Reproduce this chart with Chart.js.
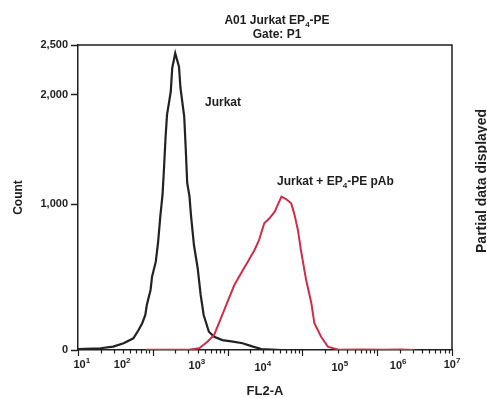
<!DOCTYPE html>
<html>
<head>
<meta charset="utf-8">
<script src="https://cdn.jsdelivr.net/npm/chart.js@4.4.1/dist/chart.umd.min.js"></script>
<style>
  html, body { margin: 0; padding: 0; background: #fff; }
  #wrap { width: 487px; height: 398px; }
</style>
</head>
<body>
<div id="wrap"><canvas id="flowChart" width="487" height="398"></canvas></div>
<script>
// ================= DATA =================
// x in axis units (one unit = one major tick interval), y in counts
const jurkatX = [0, 0.30, 0.47, 0.61, 0.74, 0.81, 0.86, 0.90, 0.92, 0.97, 0.99, 1.04, 1.07, 1.10, 1.13, 1.15, 1.17, 1.19, 1.24, 1.26, 1.30,
                 1.35, 1.37, 1.42, 1.44, 1.46, 1.49, 1.51, 1.55, 1.60, 1.64, 1.68, 1.75, 1.82, 1.93, 2.07, 2.20, 2.34, 2.45, 2.72];
const jurkatY = [6, 12, 23, 46, 80, 137, 185, 240, 308, 411, 502, 605, 733, 913, 1083, 1330, 1606, 1817, 2033, 2270, 2417,
                 2283, 2070, 1801, 1514, 1193, 1073, 925, 719, 560, 377, 240, 125, 91, 68, 57, 46, 23, 7, 0];

const epX = [0.90, 1.20, 1.50, 1.62, 1.73, 1.82, 1.91, 2.00, 2.09, 2.18, 2.27, 2.36, 2.42, 2.49, 2.56, 2.63, 2.72, 2.78, 2.85,
             2.89, 2.94, 2.98, 3.05, 3.12, 3.16, 3.25, 3.34, 3.48, 3.80, 4.10, 4.30, 4.50];
const epY = [1, 2, 3, 12, 57, 103, 217, 331, 445, 525, 605, 685, 753, 868, 902, 947, 1067, 1046, 1006,
             936, 822, 685, 479, 320, 183, 91, 23, 2, 3, 2, 4, 0];

const xTickPos = [0.05, 0.59, 1.59, 2.47, 3.50, 4.28, 5.0];
const xTickExp = ["1", "2", "3", "4", "5", "6", "7"];
const yTicks = [0, 1000, 2000, 2500];

// small vertical jitter of the printed decade labels (style only)
const xLabelDrop = [0, 0, 1, 3, 3, 1, 0];

const INK = "#1e1e1e";
const FONT = "'Liberation Sans', Arial, Helvetica, sans-serif";
Chart.defaults.font.family = FONT;

// ================= NON-LINEAR COUNT SCALE =================
// the count axis is compressed toward the top; map counts piecewise between the labelled ticks
const yBreakVals = [0, 1000, 2000, 2500];
const yBreakFrac = [0, 146 / 305, 255 / 305, 1];

function countToFrac(v) {
  for (let i = 1; i < yBreakVals.length; i++) {
    if (v <= yBreakVals[i] || i === yBreakVals.length - 1) {
      const t = (v - yBreakVals[i - 1]) / (yBreakVals[i] - yBreakVals[i - 1]);
      return yBreakFrac[i - 1] + t * (yBreakFrac[i] - yBreakFrac[i - 1]);
    }
  }
  return 0;
}
function fracToCount(f) {
  for (let i = 1; i < yBreakFrac.length; i++) {
    if (f <= yBreakFrac[i] || i === yBreakFrac.length - 1) {
      const t = (f - yBreakFrac[i - 1]) / (yBreakFrac[i] - yBreakFrac[i - 1]);
      return yBreakVals[i - 1] + t * (yBreakVals[i] - yBreakVals[i - 1]);
    }
  }
  return 0;
}

class PiecewiseScale extends Chart.LinearScale {
  getPixelForValue(value) {
    return this.getPixelForDecimal(countToFrac(value));
  }
  getValueForPixel(pixel) {
    return fracToCount(this.getDecimalForPixel(pixel));
  }
}
PiecewiseScale.id = "piecewise";
PiecewiseScale.defaults = Chart.LinearScale.defaults;
Chart.register(PiecewiseScale);

// ========== HELPERS ==========
function toPoints(xs, ys) {
  return xs.map((x, i) => ({ x: x, y: ys[i] }));
}

// draw text with sub/superscript parts: segments = [{t, sub, sup}]
function drawRich(ctx, segments, x, y, size, align) {
  const big = "bold " + size + "px " + FONT;
  const small = "bold " + Math.round(size * 0.7) + "px " + FONT;
  let total = 0;
  segments.forEach(s => {
    ctx.font = (s.sub || s.sup) ? small : big;
    total += ctx.measureText(s.t).width;
  });
  let cx = align === "center" ? x - total / 2 : x;
  ctx.textAlign = "left";
  ctx.textBaseline = "middle";
  segments.forEach(s => {
    ctx.font = (s.sub || s.sup) ? small : big;
    let dy = 0;
    if (s.sub) dy = size * 0.3;
    if (s.sup) dy = -size * 0.35;
    ctx.fillText(s.t, cx, y + dy);
    cx += ctx.measureText(s.t).width;
  });
}

// ================= DECORATION PLUGIN =================
const decorations = {
  id: "decorations",
  afterDraw(chart) {
    const { ctx, chartArea: a, scales: { x } } = chart;
    ctx.save();
    ctx.strokeStyle = INK;

    // frame top + right
    ctx.lineWidth = 1.5;
    ctx.beginPath();
    ctx.moveTo(a.left, a.top);
    ctx.lineTo(a.right, a.top);
    ctx.lineTo(a.right, a.bottom);
    ctx.stroke();

    // x tick marks: majors + log minors
    ctx.lineWidth = 1.2;
    ctx.beginPath();
    for (let k = 0; k <= 5; k++) {
      const px = Math.round(x.getPixelForValue(k)) + 0.5;
      ctx.moveTo(px, a.bottom);
      ctx.lineTo(px, a.bottom + 6);
      if (k < 5) {
        for (let m = 2; m <= 9; m++) {
          const p = Math.round(x.getPixelForValue(k + Math.log10(m))) + 0.5;
          ctx.moveTo(p, a.bottom);
          ctx.lineTo(p, a.bottom + 3.5);
        }
      }
    }
    ctx.stroke();

    ctx.fillStyle = INK;
    // decade labels with real superscripts
    xTickPos.forEach((v, i) => {
      drawRich(ctx, [{ t: "10" }, { t: xTickExp[i], sup: true }], x.getPixelForValue(v), a.bottom + 15 + xLabelDrop[i], 11, "center");
    });

    // title
    drawRich(ctx, [{ t: "A01 Jurkat EP" }, { t: "4", sub: true }, { t: "-PE" }], 277, 21, 12, "center");
    drawRich(ctx, [{ t: "Gate: P1" }], 277, 35, 12, "center");

    // series labels
    drawRich(ctx, [{ t: "Jurkat" }], a.left + 127, 103, 12, "left");
    drawRich(ctx, [{ t: "Jurkat + EP" }, { t: "4", sub: true }, { t: "-PE pAb" }], a.left + 199, 182, 12, "left");

    // side note
    ctx.translate(482, 181);
    ctx.rotate(-Math.PI / 2);
    ctx.font = "bold 14px " + FONT;
    ctx.textAlign = "center";
    ctx.textBaseline = "middle";
    ctx.fillText("Partial data displayed", 0, 0);
    ctx.restore();
  }
};

// ================= CHART =================
const tickFont = { family: FONT, size: 11, weight: "bold" };

new Chart(document.getElementById("flowChart").getContext("2d"), {
  type: "line",
  data: {
    datasets: [
      {
        label: "Jurkat + EP4-PE pAb",
        data: toPoints(epX, epY),
        borderColor: "#cc2f48",
        borderWidth: 2,
        pointRadius: 0,
        tension: 0,
        fill: false
      },
      {
        label: "Jurkat",
        data: toPoints(jurkatX, jurkatY),
        borderColor: "#222222",
        borderWidth: 2.2,
        pointRadius: 0,
        tension: 0,
        fill: false
      }
    ]
  },
  options: {
    responsive: false,
    animation: false,
    layout: { padding: { left: 0, right: 35, top: 45, bottom: 0 } },
    plugins: {
      legend: { display: false },
      tooltip: { enabled: false }
    },
    scales: {
      x: {
        type: "linear",
        min: 0,
        max: 5,
        afterBuildTicks: s => { s.ticks = xTickPos.map(v => ({ value: v })); },
        afterFit: s => { s.height = 48; },
        ticks: { display: false },
        grid: { display: false, drawTicks: false },
        border: { display: true, color: INK, width: 1.5 },
        title: {
          display: true,
          text: "FL2-A",
          color: INK,
          font: { family: FONT, size: 13, weight: "bold", lineHeight: 1 },
          padding: { top: 0, bottom: 0 }
        }
      },
      y: {
        type: "piecewise",
        min: 0,
        max: 2500,
        afterBuildTicks: s => { s.ticks = yTicks.map(v => ({ value: v })); },
        afterFit: s => { s.width = 78; },
        ticks: {
          padding: 3,
          color: INK,
          font: tickFont,
          callback: v => v.toLocaleString("en-US")
        },
        grid: { drawOnChartArea: false, tickLength: 7, tickColor: INK, tickWidth: 1.5 },
        border: { color: INK, width: 1.5 },
        title: {
          display: true,
          text: "Count",
          color: INK,
          font: { family: FONT, size: 12, weight: "bold" },
          padding: { top: 11, bottom: 0 }
        }
      }
    }
  },
  plugins: [decorations]
});
</script>
</body>
</html>
